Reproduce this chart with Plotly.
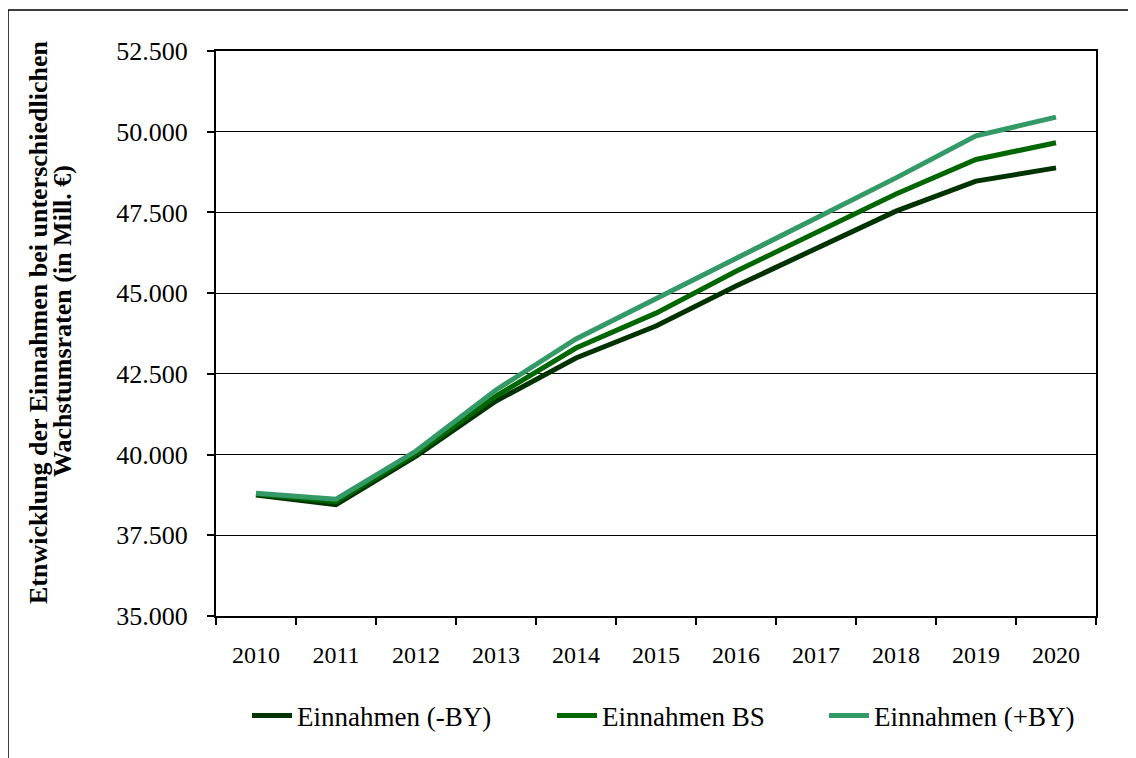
import plotly.graph_objects as go

years = ["2010", "2011", "2012", "2013", "2014", "2015", "2016", "2017", "2018", "2019", "2020"]
einnahmen_minus_by = [38750, 38450, 39950, 41660, 42990, 43980, 45220, 46370, 47540, 48470, 48880]
einnahmen_bs = [38780, 38540, 40030, 41810, 43300, 44380, 45680, 46860, 48070, 49140, 49660]
einnahmen_plus_by = [38800, 38620, 40110, 42000, 43580, 44820, 46090, 47330, 48570, 49870, 50450]

series_names = ["Einnahmen (-BY)", "Einnahmen BS", "Einnahmen (+BY)"]
series_values = [einnahmen_minus_by, einnahmen_bs, einnahmen_plus_by]
series_colors = ["#003300", "#006600", "#339966"]
legend_ids = ["legend", "legend2", "legend3"]

SERIF = "'Liberation Serif', 'Times New Roman', Times, serif"

fig = go.Figure()
for name, vals, col, lg in zip(series_names, series_values, series_colors, legend_ids):
    fig.add_trace(go.Scatter(x=years, y=vals, mode="lines", name=name, legend=lg,
                             line=dict(color=col, width=5)))

W, H = 1136, 758
L, T = 208, 43
pw, ph = 880, 565
R = W - L - pw
B = H - T - ph

# helpers in on-screen pixel coordinates (plot area: x 215..1095, y 50..615)
def px(x):
    return (x - 215) / pw

def py(y):
    return (615 - y) / ph

def legend_at(text_start):
    return dict(orientation="h", x=px(text_start - 52), xanchor="left", y=py(715), yanchor="middle",
                font=dict(family=SERIF, size=27, color="black"), itemwidth=40,
                bgcolor="rgba(0,0,0,0)")

fig.update_layout(
    width=W, height=H,
    margin=dict(l=L, r=R, t=T, b=B),
    paper_bgcolor="white", plot_bgcolor="white",
    separators=",.",
    font=dict(family=SERIF, size=22, color="black"),
    showlegend=True,
    legend=legend_at(298),
    legend2=legend_at(603),
    legend3=legend_at(875),
    xaxis=dict(type="category", range=[-0.5, 10.5], tickson="boundaries",
               ticks="outside", ticklen=7, tickcolor="black", tickwidth=1.5,
               showline=True, linecolor="black", linewidth=2, mirror=True,
               showgrid=False, ticklabelstandoff=16,
               tickfont=dict(family=SERIF, size=24)),
    yaxis=dict(range=[35000, 52500], dtick=2500, tick0=35000, tickformat=",d",
               ticks="outside", ticklen=7, tickcolor="black", tickwidth=1.5,
               showline=True, linecolor="black", linewidth=2, mirror=True,
               showgrid=True, gridcolor="black", gridwidth=1.2, zeroline=False,
               ticklabelstandoff=14,
               tickfont=dict(family=SERIF, size=26)),
    annotations=[
        dict(text="<b>Etnwicklung der Einnahmen bei unterschiedlichen</b>",
             xref="paper", yref="paper", x=px(37), y=py(322), xanchor="center", yanchor="middle",
             textangle=-90, showarrow=False,
             font=dict(family=SERIF, size=26, color="black")),
        dict(text="<b>Wachstumsraten (in Mill. €)</b>",
             xref="paper", yref="paper", x=px(61), y=py(320), xanchor="center", yanchor="middle",
             textangle=-90, showarrow=False,
             font=dict(family=SERIF, size=26, color="black")),
    ],
    shapes=[dict(type="rect", xref="paper", yref="paper",
                 x0=px(7), x1=px(1150), y0=py(770), y1=py(9),
                 line=dict(color="black", width=1.5), fillcolor="rgba(0,0,0,0)", layer="below")],
)

fig.write_html("out.html")
